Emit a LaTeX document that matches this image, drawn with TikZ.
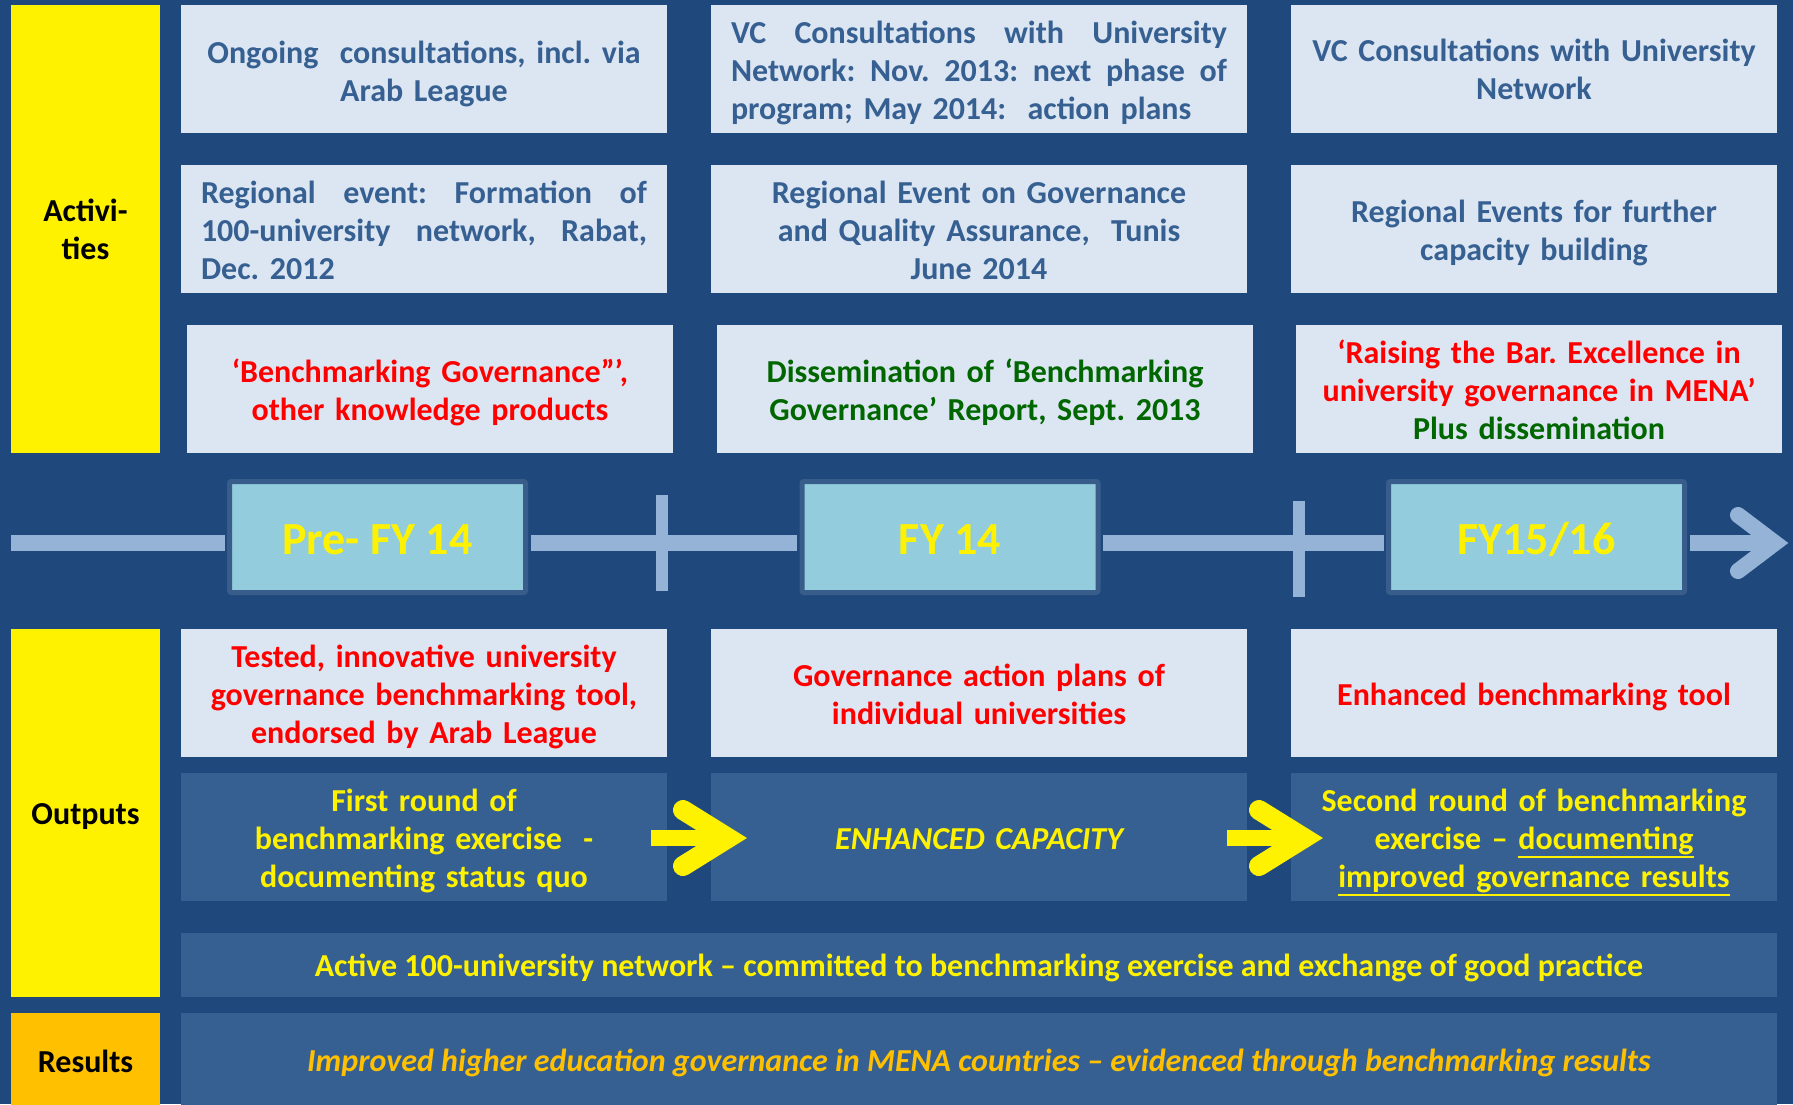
\documentclass[tikz,border=0pt]{standalone}
\usepackage{fontspec}
\setmainfont{Carlito}
\usetikzlibrary{calc}
\definecolor{bg}{HTML}{1F497D}
\definecolor{lightbox}{HTML}{DCE6F2}
\definecolor{bluetext}{HTML}{376092}
\definecolor{midbox}{HTML}{376092}
\definecolor{tlinec}{HTML}{95B3D7}
\definecolor{tlfill}{HTML}{93CDDD}
\definecolor{tlborder}{HTML}{385D8A}
\definecolor{dgreen}{HTML}{006600}
\definecolor{resorange}{HTML}{FFC000}
\newcommand\myul[1]{\leavevmode\vtop{\hbox{#1}\kern1pt\hrule height 2.5pt}}
\newcommand\tdown[1]{\rule{0pt}{\dimexpr 22.7pt+#1pt\relax}}
\frenchspacing
\begin{document}
\frenchspacing
\begin{tikzpicture}[x=1pt,y=-1pt,
  every node/.style={font=\bfseries\fontsize{32}{38}\selectfont\frenchspacing},
  lbox/.style={fill=lightbox, inner xsep=10pt, inner ysep=0pt, minimum height=128pt, align=center, text=bluetext},
  mbox/.style={fill=midbox, inner xsep=10pt, inner ysep=0pt, minimum height=128pt, align=center, text=yellow},
  wa/.style={text width=466pt},
  wb/.style={text width=516pt},
  lab/.style={fill=yellow, minimum width=149pt, inner sep=0pt, text=black, align=center},
  tlbox/.style={fill=tlfill, draw=tlborder, line width=5pt, minimum width=296pt, minimum height=111pt, inner sep=0pt, text=yellow, rounded corners=2pt, text height=34pt, text depth=0pt, font=\bfseries\fontsize{46}{50}\selectfont},
  tline/.style={draw=tlinec, line width=16pt},
  tickmark/.style={draw=tlinec, line width=12pt},
  yshaft/.style={draw=yellow, line width=16pt},
  yhead/.style={draw=yellow, line width=20pt, line cap=round, miter limit=10}
]
\useasboundingbox (0,0) rectangle (1793,1104);
\fill[bg] (0,0) rectangle (1793,1104);

% side labels
\node[lab, minimum height=448pt] (actlab) at (85.5,229) {Activi-\\ties};
\node[lab, minimum height=368pt, text height=27pt, text depth=4pt] (outlab) at (85.5,813) {Outputs};
\node[lab, fill=resorange, minimum height=97pt] (reslab) at (85.5,1061.5) {Results};

% activities row 1
\node[lbox,wa] (a11) at (424,69) {\tdown{9}Ongoing\ \ consultations, incl. via\\Arab League};
\node[lbox,wb] (a12) at (979,69) {\makebox[496pt][s]{\tdown{7}VC\hfill Consultations\hfill with\hfill University}\\\makebox[496pt][s]{Network:\hfill Nov.\hfill 2013:\hfill next\hfill phase\hfill of}\\\makebox[496pt][l]{program; May 2014:\ \ action plans}};
\node[lbox,wa] (a13) at (1534,69) {VC Consultations with University\\Network};

% activities row 2
\node[lbox,wa] (a21) at (424,229) {\makebox[446pt][s]{\tdown{2}Regional\hfill event:\hfill Formation\hfill of}\\\makebox[446pt][s]{100-university\hfill network,\hfill Rabat,}\\\makebox[446pt][l]{Dec. 2012}};
\node[lbox,wb] (a22) at (979,229) {\tdown{2}Regional Event on Governance\\and Quality Assurance,\ \ Tunis\\June 2014};
\node[lbox,wa] (a23) at (1534,229) {\tdown{7}Regional Events for further\\capacity building};

% activities row 3
\node[lbox,wa,text=red] (a31) at (430,389) {\tdown{7}‘Benchmarking Governance”’,\\other knowledge products};
\node[lbox,wb,text=dgreen] (a32) at (985,389) {\tdown{7}Dissemination of ‘Benchmarking\\Governance’ Report, Sept. 2013};
\node[lbox,wa,text=red] (a33) at (1539,389) {\tdown{2}‘Raising the Bar. Excellence in\\university governance in MENA’\\\textcolor{dgreen}{Plus dissemination}};

% timeline
\coordinate (tlstart) at (11,543);
\coordinate (tlend) at (1775,543);
\coordinate (chevtop) at (1738,515);
\coordinate (chevbot) at (1738,571);
\coordinate (tk1a) at (662,495);
\coordinate (tk1b) at (662,591);
\coordinate (tk2a) at (1298.5,501);
\coordinate (tk2b) at (1298.5,597);
\node[tlbox] (t1) at (377.5,537) {Pre- FY 14};
\node[tlbox] (t2) at (950,537) {FY 14};
\node[tlbox] (t3) at (1536.5,537) {FY15/16};
\draw[tline, shorten >=2.5pt] (tlstart) -- (t1.west |- tlstart);
\draw[tline, shorten <=2.5pt, shorten >=2.5pt] (t1.east |- tlstart) -- (t2.west |- tlstart);
\draw[tline, shorten <=2.5pt, shorten >=2.5pt] (t2.east |- tlstart) -- (t3.west |- tlstart);
\draw[tline, shorten <=2.5pt] (t3.east |- tlstart) -- (tlend);
\draw[tline, line cap=round, miter limit=10] (chevtop) -- (tlend) -- (chevbot);
\draw[tickmark] (tk1a) -- (tk1b);
\draw[tickmark] (tk2a) -- (tk2b);

% outputs row 1
\node[lbox,wa,text=red] (o11) at (424,693) {\tdown{7.5}Tested, innovative university\\governance benchmarking tool,\\endorsed by Arab League};
\node[lbox,wb,text=red] (o12) at (979,693) {\tdown{2}Governance action plans of\\individual universities};
\node[lbox,wa,text=red] (o13) at (1534,693) {\tdown{7}Enhanced benchmarking tool};

% outputs row 2
\node[mbox,wa] (o21) at (424,837) {\tdown{8}First round of\\benchmarking exercise\ \ -\\documenting status quo};
\node[mbox,wb] (o22) at (979,837) {\tdown{2}\itshape ENHANCED CAPACITY};
\node[mbox,wa] (o23) at (1534,837) {\tdown{11}Second round of benchmarking\\exercise – \myul{documenting}\\\myul{improved governance results}};

% yellow arrows
\coordinate (ya1s) at (651,838);
\coordinate (ya1v) at (728,838);
\coordinate (ya1t) at (683,810);
\coordinate (ya1b) at (683,866);
\coordinate (ya2s) at (1227,838);
\coordinate (ya2v) at (1304,838);
\coordinate (ya2t) at (1259,810);
\coordinate (ya2b) at (1259,866);
\draw[yshaft] (ya1s) -- (ya1v);
\draw[yhead] (ya1t) -- (ya1v) -- (ya1b);
\draw[yshaft] (ya2s) -- (ya2v);
\draw[yhead] (ya2t) -- (ya2v) -- (ya2b);

% network and results
\node[mbox, minimum width=1596pt, minimum height=64pt, inner xsep=0pt, text height=26pt, text depth=4pt] (act) at (979,965) {Active 100-university network – committed to benchmarking exercise and exchange of good practice};
\node[mbox, minimum width=1596pt, minimum height=97pt, inner xsep=0pt, text=resorange, text height=24pt, text depth=4pt] (res) at (979,1061.5) {\itshape Improved higher education governance in MENA countries – evidenced through benchmarking results};
\end{tikzpicture}
\end{document}
